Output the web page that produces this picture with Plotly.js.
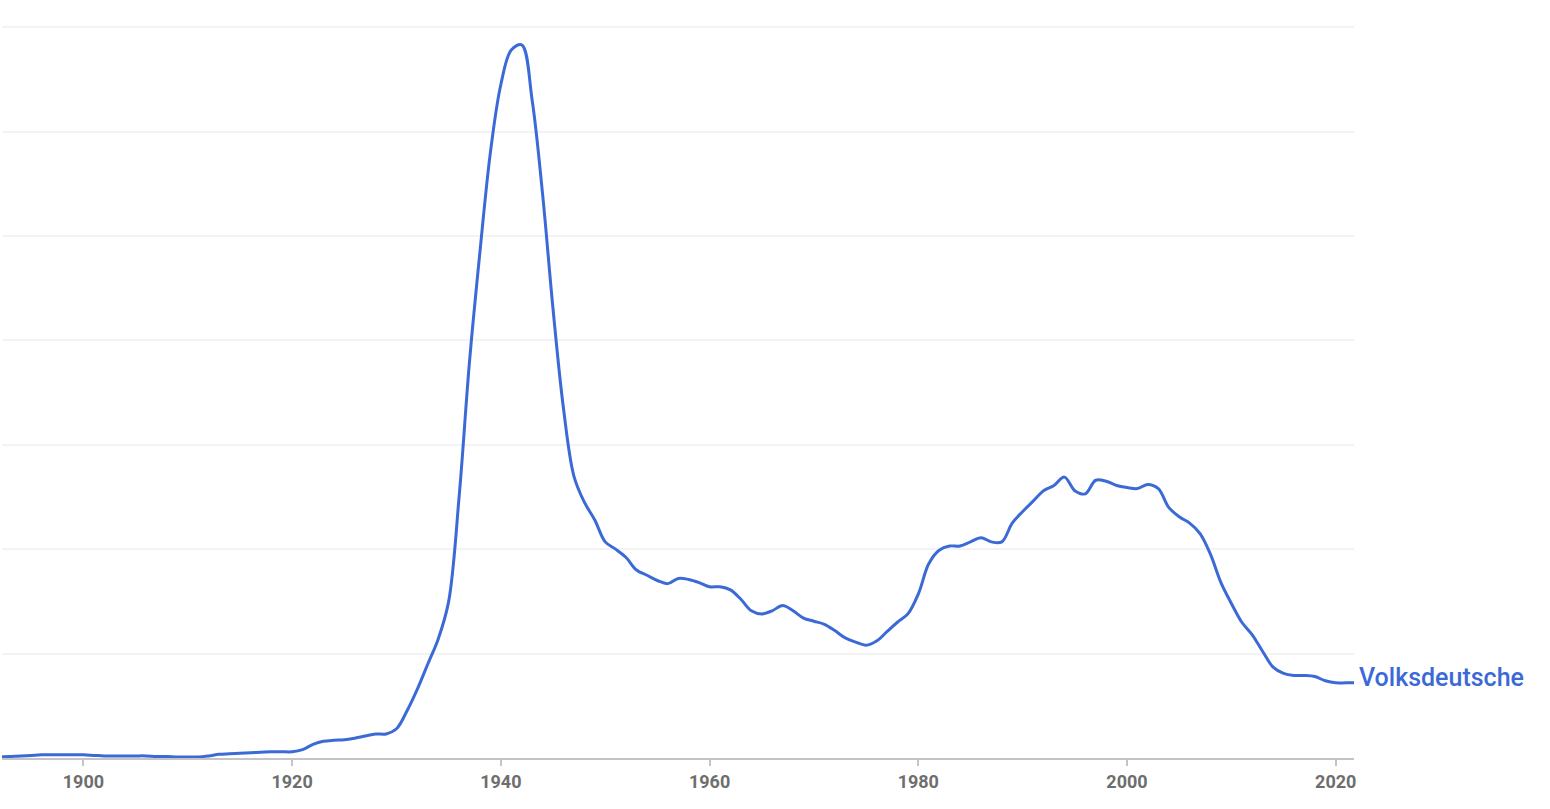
<!DOCTYPE html>
<html>
<head>
<meta charset="utf-8">
<script src="https://cdn.plot.ly/plotly-3.0.1.min.js"></script>
<style>
  html, body { margin: 0; padding: 0; background: #ffffff; }
  #chart { width: 1550px; height: 809px; }
</style>
</head>
<body>
<div id="chart"></div>
<script>
// Data (relative frequency, in grid-line units)
const years = [];
for (let y = 1892; y <= 2022; y++) years.push(y);

const volksdeutsche = [
  0.01, 0.015, 0.02, 0.025, 0.03, 0.03, 0.03, 0.03,            // 1892-1899
  0.03, 0.025, 0.02, 0.02, 0.02, 0.02, 0.02, 0.015, 0.015, 0.01, // 1900-1909
  0.01, 0.01, 0.02, 0.035, 0.04, 0.045, 0.05, 0.055, 0.06, 0.06, // 1910-1919
  0.06, 0.08, 0.13, 0.16, 0.17, 0.175, 0.19, 0.21, 0.23, 0.23,   // 1920-1929
  0.28, 0.45, 0.66, 0.90, 1.14, 1.50, 2.50, 3.80, 4.85, 5.80,    // 1930-1939
  6.45, 6.78, 6.83, 6.30, 5.40, 4.30, 3.35, 2.70, 2.45, 2.28,    // 1940-1949
  2.07, 2.00, 1.92, 1.80, 1.75, 1.70, 1.67, 1.72, 1.71, 1.68,    // 1950-1959
  1.64, 1.64, 1.61, 1.52, 1.41, 1.38, 1.41, 1.46, 1.41, 1.34,    // 1960-1969
  1.31, 1.28, 1.22, 1.15, 1.11, 1.08, 1.12, 1.21, 1.30, 1.38,    // 1970-1979
  1.57, 1.86, 1.99, 2.03, 2.03, 2.07, 2.11, 2.07, 2.07, 2.25,    // 1980-1989
  2.36, 2.46, 2.56, 2.61, 2.69, 2.56, 2.53, 2.66, 2.65, 2.61,    // 1990-1999
  2.59, 2.58, 2.62, 2.58, 2.40, 2.31, 2.25, 2.15, 1.95, 1.68,    // 2000-2009
  1.48, 1.30, 1.18, 1.02, 0.87, 0.81, 0.79, 0.79, 0.78, 0.74,    // 2010-2019
  0.72, 0.72, 0.72                                               // 2020-2022
];

const seriesName = 'Volksdeutsche';
const tickYears = [1900, 1920, 1940, 1960, 1980, 2000, 2020];
const tickLabels = ['1900', '1920', '1940', '1960', '1980', '2000', '2020'];

const lineColor = '#3b6ad6';

const trace = {
  x: years,
  y: volksdeutsche,
  type: 'scatter',
  mode: 'lines',
  name: seriesName,
  line: { color: lineColor, width: 3, shape: 'spline', smoothing: 1 },
  hoverinfo: 'x+y'
};

const layout = {
  width: 1550,
  height: 809,
  margin: { l: 2, r: 196, t: 25, b: 51 },
  paper_bgcolor: '#ffffff',
  plot_bgcolor: '#ffffff',
  showlegend: false,
  xaxis: {
    range: [1892.2, 2021.75],
    tickmode: 'array',
    tickvals: tickYears,
    ticktext: tickLabels,
    showgrid: false,
    zeroline: false,
    showline: true,
    linecolor: '#c4c4c4',
    linewidth: 2,
    ticks: 'outside',
    ticklen: 6,
    tickwidth: 2,
    tickcolor: '#c4c4c4',
    tickfont: { family: 'Roboto, sans-serif', size: 18, color: '#6e6e6e', weight: 'bold' },
    fixedrange: true
  },
  yaxis: {
    range: [0, 7.02],
    tickmode: 'linear',
    tick0: 0,
    dtick: 1,
    showticklabels: false,
    showgrid: true,
    gridcolor: '#f3f3f3',
    gridwidth: 2,
    zeroline: false,
    showline: false,
    ticks: '',
    fixedrange: true
  },
  annotations: [{
    x: 1,
    y: volksdeutsche[volksdeutsche.length - 1],
    xref: 'paper',
    yref: 'y',
    text: seriesName,
    showarrow: false,
    xanchor: 'left',
    yanchor: 'middle',
    xshift: 3,
    yshift: 5,
    font: { family: 'Roboto, sans-serif', size: 25, color: lineColor, weight: 500 }
  }]
};

Plotly.newPlot('chart', [trace], layout, { displayModeBar: false, staticPlot: true });
</script>
</body>
</html>
